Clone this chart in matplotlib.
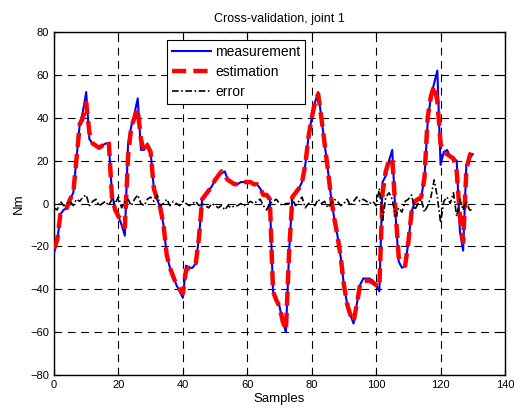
import numpy as np
import matplotlib
matplotlib.use("Agg")
import matplotlib.pyplot as plt

plt.rcParams['font.family'] = ['Liberation Sans', 'DejaVu Sans']

samples = np.arange(0, 131)

measurement = [
    -23, -18, -5, -3, -2, 2, 5, 21, 37, 43, 52, 30, 28, 27, 26, 27, 28, 28, 5, -3,
    -6, -10, -15, 28, 36, 42, 49, 25, 25, 28, 24, 7, 2, -2, -10, -24, -30, -34, -38, -41,
    -44, -29, -30, -30, -28, -16, 2, 4, 6, 8, 11, 13, 14, 15, 11, 10, 9, 9, 10, 10,
    10, 10, 9, 9, 7, 4, 4, 2, -41, -45, -48, -55, -60, -22, 3, 5, 7, 10, 18, 31,
    40, 47, 52, 40, 28, 16, 3, -7, -15, -25, -38, -47, -52, -56, -47, -38, -35, -35, -35, -36,
    -38, -41, 10, 13, 20, 25, -5, -27, -30, -29, -18, -4, 1, 2, 3, 12, 38, 50, 56, 62,
    18, 24, 25, 22, 21, 20, -13, -22, 18, 21, 23,
]

estimation = [
    -21, -17, -5, -3, -2, 2, 5, 21, 37, 40, 47, 33, 28, 27, 26, 27, 28, 29, 3, -3,
    -6, -8, -11, 22, 36, 40, 44, 30, 24, 27, 24, 7, 2, -2, -10, -24, -30, -34, -38, -40,
    -42, -31, -30, -30, -28, -16, 2, 4, 6, 8, 11, 13, 15, 13, 11, 10, 9, 9, 10, 10,
    10, 10, 9, 9, 7, 4, 4, 2, -41, -45, -48, -55, -59, -22, 3, 5, 7, 10, 18, 31,
    40, 47, 51, 40, 28, 16, 3, -7, -15, -25, -38, -47, -52, -55, -47, -38, -36, -36, -36, -37,
    -38, -39, 5, 15, 20, 21, -3, -25, -28, -29, -18, -4, 1, 2, 3, 12, 40, 50, 55, 48,
    28, 24, 23, 22, 21, 15, -6, -18, 16, 22, 26,
]

error = [
    -2, -3, 1, -1, 0, 1, -1, 2, 1, 3, 4, -1, 1, 2, -1, 0, 1, -1, 2, 0,
    3, -2, 1, 2, -1, 2, 4, 0, -1, 2, 3, 1, 4, -1, 0, 2, -1, 1, 0, -1,
    1, 0, -1, 0, 1, -1, 0, -1, -2, 0, -1, -2, -1, -3, -1, -2, -1, -1, 0, -1,
    0, 1, 0, 1, 2, -1, -3, 0, 1, 2, 0, -1, 0, 0, 2, -1, 1, 3, -2, 0,
    1, -1, 2, 0, 1, -2, 0, 2, 1, -1, 0, 2, -1, 1, 3, 1, 2, 1, 0, 1,
    -1, 7, -8, 3, 5, 2, -6, -2, -4, 1, 2, 4, -3, 0, 2, -4, -1, 3, 11, 3,
    -9, 1, 3, 0, 5, -6, 2, -3, 1, -3, -3,
]

fig = plt.figure(figsize=(5.14, 4.12), dpi=100)
ax = fig.add_axes([0.105, 0.0898, 0.8775, 0.8325])

ax.plot(samples, measurement, color='#0000ff', lw=1.5, label='measurement', zorder=3)
ax.plot(samples, estimation, color='#ff0000', lw=3.2, linestyle=(0, (3.2, 1.6)),
        label='estimation', zorder=4)
ax.plot(samples, error, color='k', lw=1.2, linestyle=(0, (4, 1.5, 1, 1.5)),
        label='error', zorder=5)

ax.set_xlim(0, 140)
ax.set_ylim(-80, 80)
ax.set_xticks(np.arange(0, 141, 20))
ax.set_yticks(np.arange(-80, 81, 20))
ax.tick_params(direction='in', labelsize=8, length=4, top=True, right=True)
ax.grid(True, color='k', lw=0.8, linestyle=(0, (7, 5)))
for s in ax.spines.values():
    s.set_linewidth(1.0)

ax.set_title('Cross-validation, joint 1', fontsize=9, pad=7)
ax.set_xlabel('Samples', fontsize=9.5, labelpad=2)
ax.set_ylabel('Nm', fontsize=9.5, labelpad=4)

leg = ax.legend(loc='upper left', bbox_to_anchor=(0.2506, 0.977), borderaxespad=0,
                fontsize=10, handlelength=2.8, labelspacing=0.45, fancybox=False,
                framealpha=1, edgecolor='k', borderpad=0.35, handletextpad=0.3)
leg.get_frame().set_linewidth(0.8)

fig.savefig('out.png', dpi=100)
